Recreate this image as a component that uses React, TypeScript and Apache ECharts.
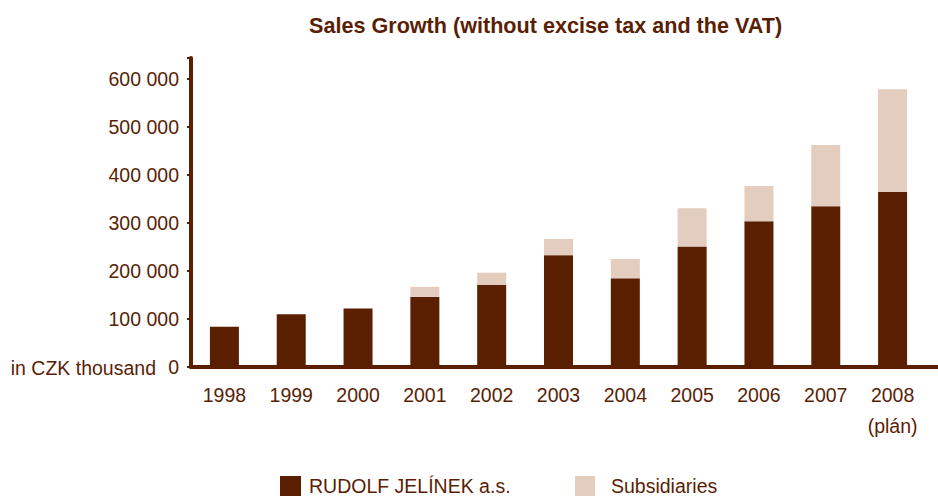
import React, { useEffect, useRef } from "react";
import * as echarts from "echarts";

const categories = ["1998", "1999", "2000", "2001", "2002", "2003", "2004", "2005", "2006", "2007", "2008\n(plán)"];
const rudolfJelinek = [84000, 110000, 122000, 146000, 171500, 233000, 184700, 251000, 303500, 334700, 365300];
const subsidiaries = [0, 0, 0, 21000, 25000, 33700, 40300, 79500, 73500, 127800, 213200];
const seriesNames = ["RUDOLF JELÍNEK a.s.", "Subsidiaries"];
const titleText = "Sales Growth (without excise tax and the VAT)";
const unitText = "in CZK thousand";

const DARK = "#5a1e00";
const LIGHT = "#e2cdbf";
const TEXT = "#5a1e05";
const FONT = '"Liberation Sans", Arial, Helvetica, sans-serif';
const FS = 19.5;

function fmt(v: number): string {
  return String(v).replace(/\B(?=(\d{3})+(?!\d))/g, " ");
}

export default function App() {
  const ref = useRef<HTMLDivElement>(null);
  useEffect(() => {
    if (!ref.current) return;
    const chart = echarts.init(ref.current, undefined, { renderer: "svg" });
    chart.setOption({
      animation: false,
      backgroundColor: "#ffffff",
      title: {
        text: titleText,
        left: 309,
        top: 14,
        padding: 0,
        textStyle: { color: TEXT, fontFamily: FONT, fontWeight: "bold", fontSize: 21.6 },
      },
      legend: [
        {
          data: [seriesNames[0]],
          left: 280,
          top: 476,
          padding: 0,
          itemWidth: 21,
          itemHeight: 20,
          icon: "rect",
          textStyle: { color: TEXT, fontFamily: FONT, fontSize: FS, padding: [0, 0, 0, 3] },
        },
        {
          data: [seriesNames[1]],
          left: 575,
          top: 476,
          padding: 0,
          itemWidth: 20,
          itemHeight: 20,
          icon: "rect",
          textStyle: { color: TEXT, fontFamily: FONT, fontSize: FS, padding: [0, 0, 0, 11] },
        },
      ],
      grid: { left: 191, right: 12, top: 58, bottom: 130, containLabel: false },
      xAxis: {
        type: "category",
        data: categories,
        axisLine: { show: true, lineStyle: { color: DARK, width: 4 } },
        axisTick: { show: false },
        axisLabel: {
          color: TEXT,
          fontFamily: FONT,
          fontSize: FS,
          lineHeight: 31,
          margin: 12,
          interval: 0,
        },
      },
      yAxis: {
        type: "value",
        min: 0,
        max: 643750,
        interval: 100000,
        splitLine: { show: false },
        axisLine: { show: true, lineStyle: { color: DARK, width: 4 } },
        axisTick: { show: true, length: 4, lineStyle: { color: DARK, width: 2 } },
        axisLabel: {
          color: TEXT,
          fontFamily: FONT,
          fontSize: FS,
          margin: 12,
          formatter: (v: number) => (v % 100000 === 0 ? fmt(v) : ""),
        },
      },
      graphic: [
        {
          type: "text",
          x: 156,
          y: 368,
          style: {
            text: unitText,
            fill: TEXT,
            fontFamily: FONT,
            fontSize: FS,
            align: "right",
            verticalAlign: "middle",
          },
        },
        {
          type: "rect",
          x: 924,
          y: 365,
          shape: { width: 14, height: 4 },
          style: { fill: DARK },
        },
      ],
      series: [
        {
          name: seriesNames[0],
          type: "bar",
          stack: "total",
          data: rudolfJelinek,
          barWidth: 29,
          itemStyle: { color: DARK },
        },
        {
          name: seriesNames[1],
          type: "bar",
          stack: "total",
          data: subsidiaries,
          barWidth: 29,
          itemStyle: { color: LIGHT },
        },
      ],
    });
    return () => chart.dispose();
  }, []);
  return (
    <div
      ref={ref}
      style={{ position: "fixed", left: 0, top: 0, width: 938, height: 497 }}
    />
  );
}
